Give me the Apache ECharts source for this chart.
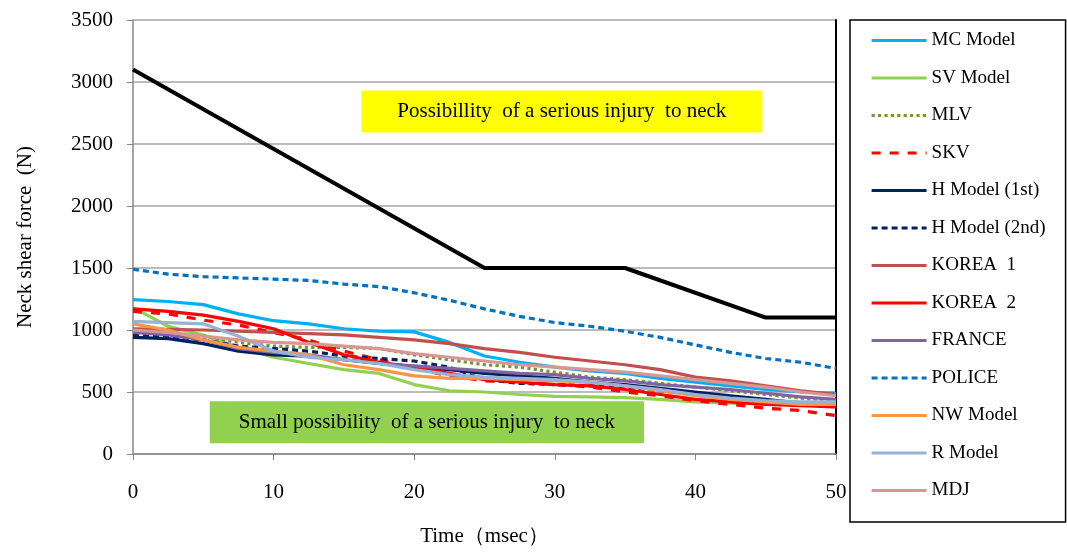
<!DOCTYPE html>
<html><head><meta charset="utf-8">
<script src="https://cdn.jsdelivr.net/npm/echarts@6/dist/echarts.min.js"></script>
<style>html,body{margin:0;padding:0;background:#fff}#c{width:1067px;height:552px}</style>
</head><body><div id="c"></div>
<script>
const time = [0,2.5,5,7.5,10,12.5,15,17.5,20,22.5,25,27.5,30,32.5,35,37.5,40,42.5,45,47.5,50];
const mcModel  = [1245,1230,1205,1130,1075,1050,1010,990,985,900,790,740,700,670,650,610,580,550,520,500,490];
const svModel  = [1180,1030,960,860,780,730,680,650,560,510,500,480,465,460,455,440,420,410,405,400,400];
const mlv      = [1000,980,950,900,870,860,860,850,800,760,720,700,660,620,600,570,540,510,480,450,430];
const skv      = [1150,1130,1080,1040,980,920,830,760,690,630,590,580,560,540,500,470,430,400,370,350,310];
const hModel1  = [940,930,890,830,800,790,760,730,700,680,650,630,610,580,560,530,500,470,440,410,400];
const hModel2  = [960,950,920,870,850,830,790,770,750,700,600,570,560,550,540,510,480,450,420,400,380];
const korea1   = [1010,1005,1000,990,980,970,960,940,920,890,850,820,780,750,720,680,620,590,550,510,480];
const korea2   = [1170,1150,1120,1070,1010,900,800,740,700,650,600,580,560,550,520,480,440,420,400,390,380];
const france   = [980,960,920,850,820,800,760,730,710,690,670,650,640,610,590,560,540,520,490,460,440];
const police   = [1490,1450,1430,1420,1410,1400,1370,1350,1300,1240,1170,1110,1060,1030,990,940,880,820,770,740,690];
const nwModel  = [1050,1000,920,860,830,800,720,680,630,610,610,600,590,580,550,510,470,440,420,400,400];
const rModel   = [1070,1060,1050,950,830,780,760,730,680,640,620,610,600,580,550,520,480,450,430,420,420];
const mdj      = [1000,980,950,920,900,890,870,850,810,780,750,720,700,680,660,630,600,570,540,500,470];
const limitT   = [0,25,35,45,50];
const limitF   = [3100,1500,1500,1100,1100];
const yTicks   = [0,500,1000,1500,2000,2500,3000,3500];
const xTicks   = [0,10,20,30,40,50];
const noteHigh = {text:'Possibillity  of a serious injury  to neck', t:30.5, f:2762};
const noteLow  = {text:'Small possibility  of a serious injury  to neck', t:20.9, f:257};

const FONT = '"Liberation Serif", "Times New Roman", serif';
const defs = [
  ['MC Model', mcModel, '#00B0F0', 'solid'],
  ['SV Model', svModel, '#92D050', 'solid'],
  ['MLV', mlv, '#77933C', 'dotted'],
  ['SKV', skv, '#FF0000', [9,9]],
  ['H Model (1st)', hModel1, '#002060', 'solid'],
  ['H Model (2nd)', hModel2, '#002060', [6,4]],
  ['KOREA  1', korea1, '#C0504D', 'solid'],
  ['KOREA  2', korea2, '#FF0000', 'solid'],
  ['FRANCE', france, '#8064A2', 'solid'],
  ['POLICE', police, '#0070C0', [6,4]],
  ['NW Model', nwModel, '#F79646', 'solid'],
  ['R Model', rModel, '#95B3D7', 'solid'],
  ['MDJ', mdj, '#D99694', 'solid']
];
const series = defs.map(d => ({
  name: d[0], type: 'line', symbol: 'none', smooth: false,
  data: time.map((t,i) => [t, d[1][i]]),
  lineStyle: {color: d[2], width: 3.2, type: d[3]},
  itemStyle: {color: d[2]}
}));
series.push({
  name: 'limit', type: 'line', symbol: 'none',
  data: limitT.map((t,i) => [t, limitF[i]]),
  lineStyle: {color: '#000', width: 4}, itemStyle: {color: '#000'}, z: 5,
  markPoint: {
    symbol: 'rect', symbolSize: 0,
    label: {show: true, fontFamily: FONT, fontSize: 21, color: '#000'},
    data: [
      {coord: [noteHigh.t, noteHigh.f], label: {formatter: noteHigh.text, backgroundColor: '#FFFF00', padding: [11, 36, 10, 36]}},
      {coord: [noteLow.t, noteLow.f], label: {formatter: noteLow.text, backgroundColor: '#92D050', padding: [11, 29, 10, 29]}}
    ]
  }
});

const chart = echarts.init(document.getElementById('c'), null, {renderer: 'canvas'});
chart.setOption({
  animation: false,
  backgroundColor: '#fff',
  grid: {left: 133, right: 231, top: 20, bottom: 96},
  legend: {
    orient: 'vertical', left: 850, top: 20,
    data: defs.map(d => d[0]),
    itemWidth: 55, itemHeight: 18, itemGap: 18.5,
    padding: [11, 20, 22, 20],
    itemStyle: {opacity: 0},
    lineStyle: {width: 3.2},
    borderColor: '#000', borderWidth: 1.5,
    textStyle: {fontFamily: FONT, fontSize: 19, color: '#000'}
  },
  xAxis: {
    type: 'value', min: 0, max: 50, interval: 10,
    name: 'Time（msec）', nameLocation: 'middle', nameGap: 72,
    nameTextStyle: {fontFamily: FONT, fontSize: 21, color: '#000'},
    axisLine: {lineStyle: {color: '#868686', width: 1.5}},
    axisTick: {show: true, length: 6, lineStyle: {color: '#868686'}},
    axisLabel: {fontFamily: FONT, fontSize: 21, color: '#000', margin: 28,
      formatter: v => xTicks.includes(v) ? String(v) : ''},
    splitLine: {show: false}
  },
  yAxis: [{
    type: 'value', min: 0, max: 3500, interval: 500,
    name: 'Neck shear force  (N)', nameLocation: 'middle', nameGap: 97,
    nameTextStyle: {fontFamily: FONT, fontSize: 21, color: '#000'},
    axisLine: {show: true, lineStyle: {color: '#868686', width: 1.5}},
    axisTick: {show: true, length: 6, lineStyle: {color: '#868686'}},
    axisLabel: {fontFamily: FONT, fontSize: 21, color: '#000', margin: 20,
      formatter: v => yTicks.includes(v) ? String(v) : ''},
    splitLine: {show: true, lineStyle: {color: '#A6A6A6', width: 1.5}}
  }, {
    type: 'value', min: 0, max: 3500, interval: 500, position: 'right',
    axisLine: {show: true, lineStyle: {color: '#000', width: 2}},
    axisTick: {show: false}, axisLabel: {show: false}, splitLine: {show: false}
  }],
  series: series
});
</script></body></html>
